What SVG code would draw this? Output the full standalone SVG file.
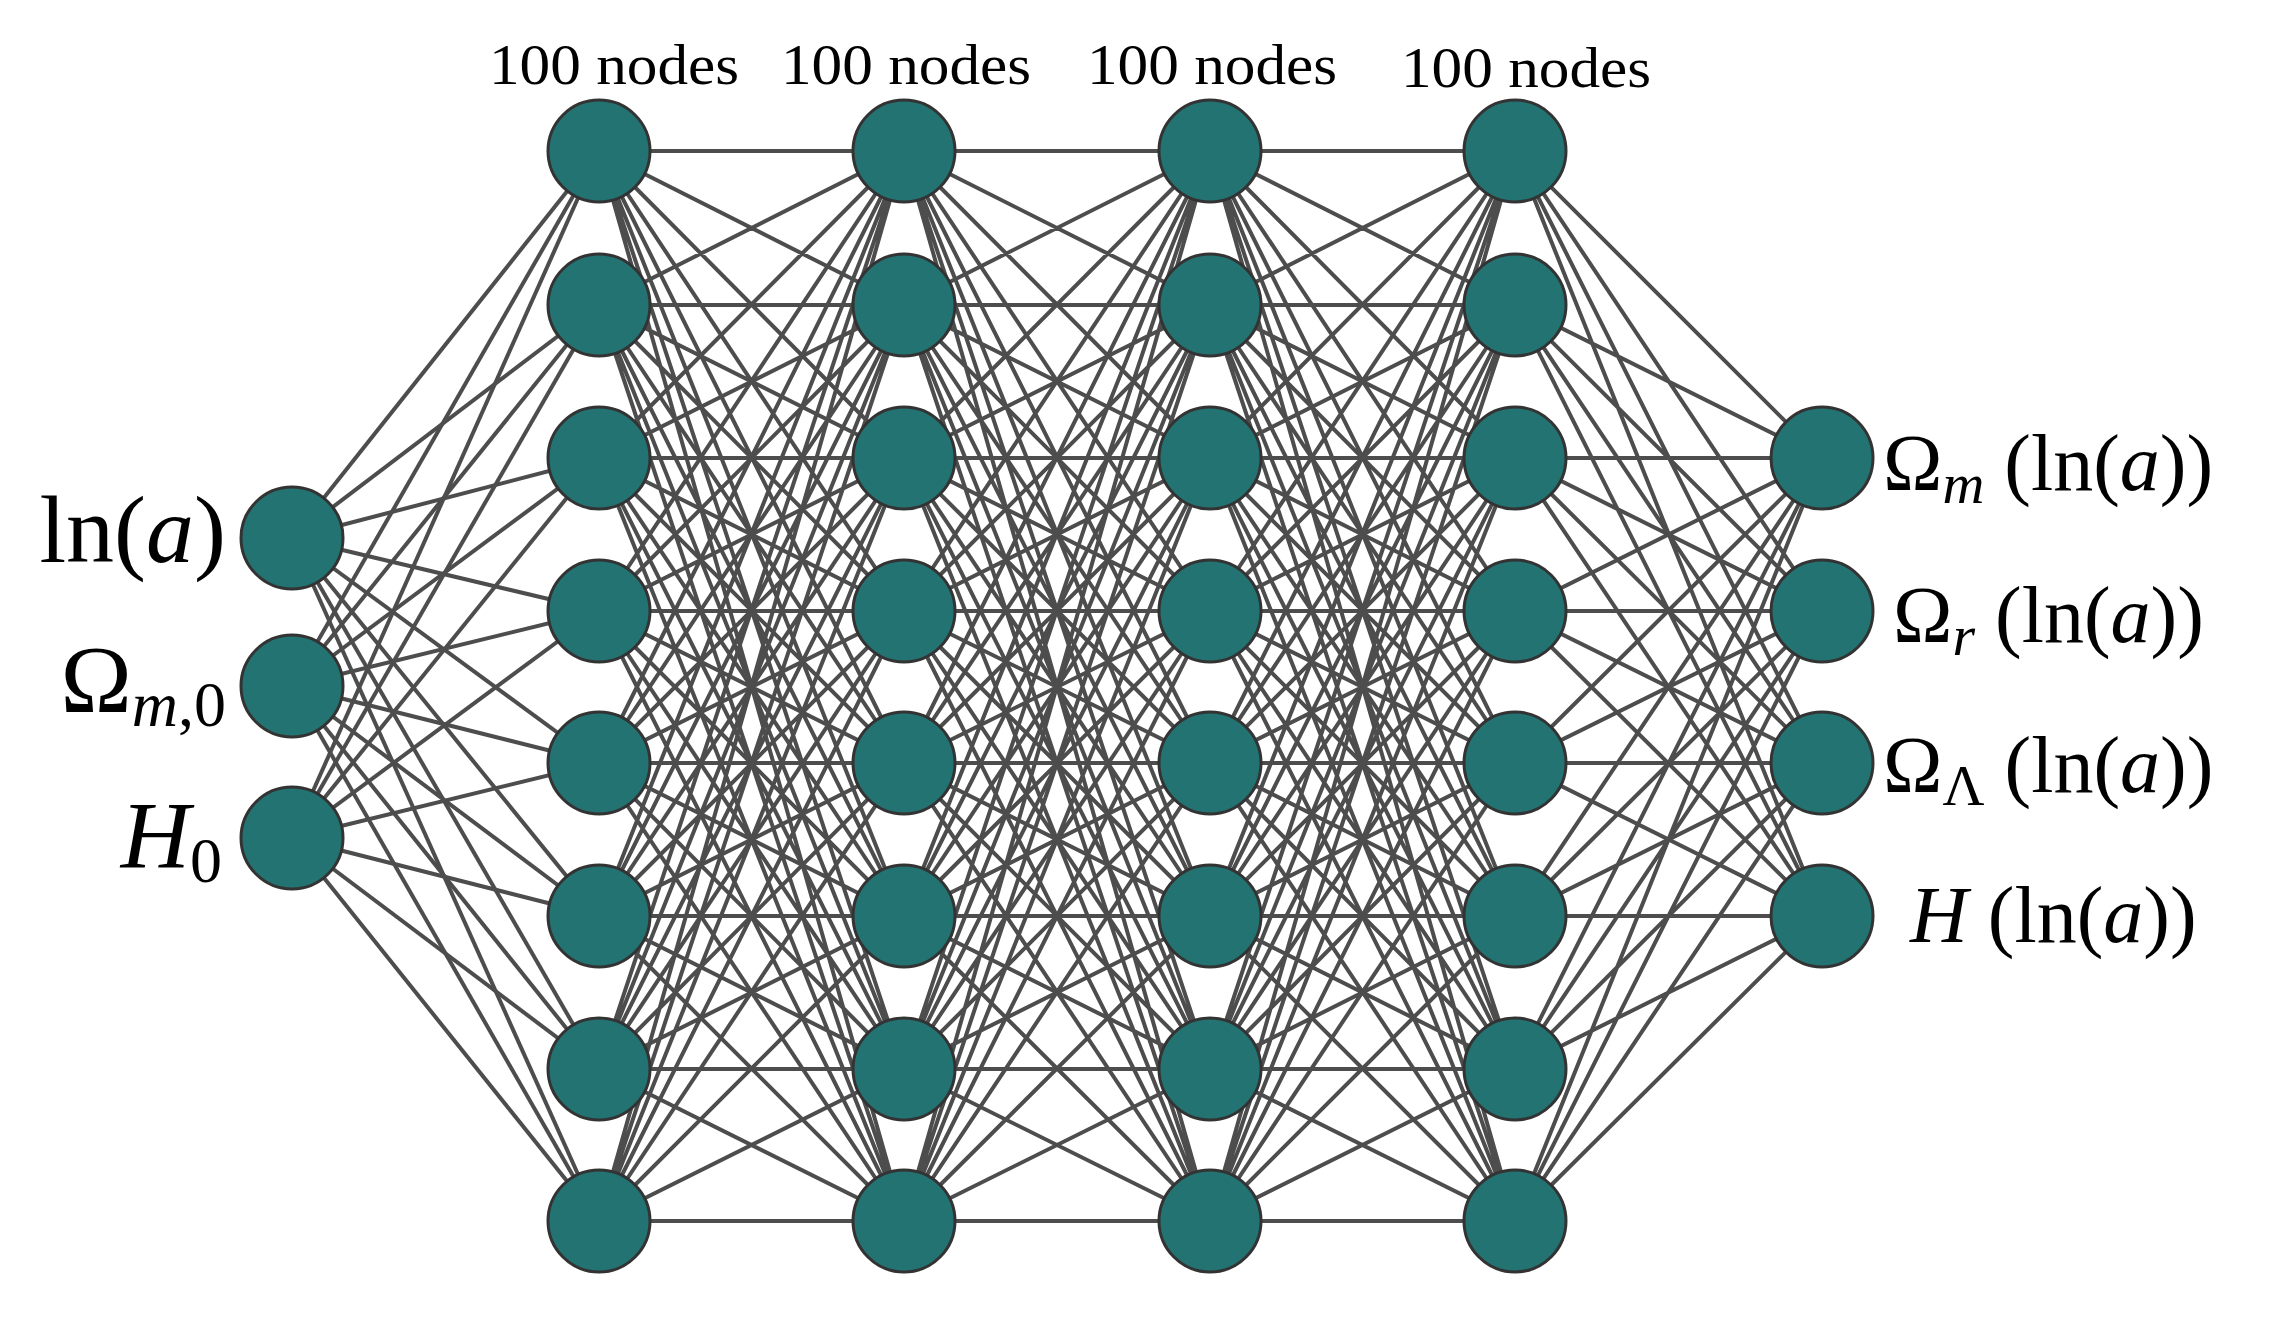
<svg xmlns="http://www.w3.org/2000/svg" width="2280" height="1332" viewBox="0 0 2280 1332">
<style>
.e{stroke:#4d4d4d;stroke-width:4}
.n{fill:#237373;stroke:#333;stroke-width:3}
.t{font-family:"Liberation Serif",serif;fill:#000}
.h{font-size:56px;text-anchor:middle}
.l{font-size:96px;text-anchor:end}
.r{font-size:80px}
</style>
<rect width="2280" height="1332" fill="#fff"/>
<g id="connectors">
<g id="c0">
<line class="e" x1="292" y1="538" x2="599" y2="151"/><line class="e" x1="292" y1="538" x2="599" y2="305"/><line class="e" x1="292" y1="538" x2="599" y2="458"/><line class="e" x1="292" y1="538" x2="599" y2="611"/><line class="e" x1="292" y1="538" x2="599" y2="763"/><line class="e" x1="292" y1="538" x2="599" y2="916"/><line class="e" x1="292" y1="538" x2="599" y2="1069"/><line class="e" x1="292" y1="538" x2="599" y2="1221"/>
<line class="e" x1="292" y1="686" x2="599" y2="151"/><line class="e" x1="292" y1="686" x2="599" y2="305"/><line class="e" x1="292" y1="686" x2="599" y2="458"/><line class="e" x1="292" y1="686" x2="599" y2="611"/><line class="e" x1="292" y1="686" x2="599" y2="763"/><line class="e" x1="292" y1="686" x2="599" y2="916"/><line class="e" x1="292" y1="686" x2="599" y2="1069"/><line class="e" x1="292" y1="686" x2="599" y2="1221"/>
<line class="e" x1="292" y1="838" x2="599" y2="151"/><line class="e" x1="292" y1="838" x2="599" y2="305"/><line class="e" x1="292" y1="838" x2="599" y2="458"/><line class="e" x1="292" y1="838" x2="599" y2="611"/><line class="e" x1="292" y1="838" x2="599" y2="763"/><line class="e" x1="292" y1="838" x2="599" y2="916"/><line class="e" x1="292" y1="838" x2="599" y2="1069"/><line class="e" x1="292" y1="838" x2="599" y2="1221"/>
</g>
<g id="c1">
<path class="e" d="M599 151L904 151M599 151L904 305M599 151L904 458M599 151L904 611M599 151L904 763M599 151L904 916M599 151L904 1069M599 151L904 1221
M599 305L904 151M599 305L904 305M599 305L904 458M599 305L904 611M599 305L904 763M599 305L904 916M599 305L904 1069M599 305L904 1221
M599 458L904 151M599 458L904 305M599 458L904 458M599 458L904 611M599 458L904 763M599 458L904 916M599 458L904 1069M599 458L904 1221
M599 611L904 151M599 611L904 305M599 611L904 458M599 611L904 611M599 611L904 763M599 611L904 916M599 611L904 1069M599 611L904 1221
M599 763L904 151M599 763L904 305M599 763L904 458M599 763L904 611M599 763L904 763M599 763L904 916M599 763L904 1069M599 763L904 1221
M599 916L904 151M599 916L904 305M599 916L904 458M599 916L904 611M599 916L904 763M599 916L904 916M599 916L904 1069M599 916L904 1221
M599 1069L904 151M599 1069L904 305M599 1069L904 458M599 1069L904 611M599 1069L904 763M599 1069L904 916M599 1069L904 1069M599 1069L904 1221
M599 1221L904 151M599 1221L904 305M599 1221L904 458M599 1221L904 611M599 1221L904 763M599 1221L904 916M599 1221L904 1069M599 1221L904 1221"/>
</g>
<g id="c2">
<path class="e" d="M904 151L1210 151M904 151L1210 305M904 151L1210 458M904 151L1210 611M904 151L1210 763M904 151L1210 916M904 151L1210 1069M904 151L1210 1221
M904 305L1210 151M904 305L1210 305M904 305L1210 458M904 305L1210 611M904 305L1210 763M904 305L1210 916M904 305L1210 1069M904 305L1210 1221
M904 458L1210 151M904 458L1210 305M904 458L1210 458M904 458L1210 611M904 458L1210 763M904 458L1210 916M904 458L1210 1069M904 458L1210 1221
M904 611L1210 151M904 611L1210 305M904 611L1210 458M904 611L1210 611M904 611L1210 763M904 611L1210 916M904 611L1210 1069M904 611L1210 1221
M904 763L1210 151M904 763L1210 305M904 763L1210 458M904 763L1210 611M904 763L1210 763M904 763L1210 916M904 763L1210 1069M904 763L1210 1221
M904 916L1210 151M904 916L1210 305M904 916L1210 458M904 916L1210 611M904 916L1210 763M904 916L1210 916M904 916L1210 1069M904 916L1210 1221
M904 1069L1210 151M904 1069L1210 305M904 1069L1210 458M904 1069L1210 611M904 1069L1210 763M904 1069L1210 916M904 1069L1210 1069M904 1069L1210 1221
M904 1221L1210 151M904 1221L1210 305M904 1221L1210 458M904 1221L1210 611M904 1221L1210 763M904 1221L1210 916M904 1221L1210 1069M904 1221L1210 1221"/>
</g>
<g id="c3">
<path class="e" d="M1210 151L1515 151M1210 151L1515 305M1210 151L1515 458M1210 151L1515 611M1210 151L1515 763M1210 151L1515 916M1210 151L1515 1069M1210 151L1515 1221
M1210 305L1515 151M1210 305L1515 305M1210 305L1515 458M1210 305L1515 611M1210 305L1515 763M1210 305L1515 916M1210 305L1515 1069M1210 305L1515 1221
M1210 458L1515 151M1210 458L1515 305M1210 458L1515 458M1210 458L1515 611M1210 458L1515 763M1210 458L1515 916M1210 458L1515 1069M1210 458L1515 1221
M1210 611L1515 151M1210 611L1515 305M1210 611L1515 458M1210 611L1515 611M1210 611L1515 763M1210 611L1515 916M1210 611L1515 1069M1210 611L1515 1221
M1210 763L1515 151M1210 763L1515 305M1210 763L1515 458M1210 763L1515 611M1210 763L1515 763M1210 763L1515 916M1210 763L1515 1069M1210 763L1515 1221
M1210 916L1515 151M1210 916L1515 305M1210 916L1515 458M1210 916L1515 611M1210 916L1515 763M1210 916L1515 916M1210 916L1515 1069M1210 916L1515 1221
M1210 1069L1515 151M1210 1069L1515 305M1210 1069L1515 458M1210 1069L1515 611M1210 1069L1515 763M1210 1069L1515 916M1210 1069L1515 1069M1210 1069L1515 1221
M1210 1221L1515 151M1210 1221L1515 305M1210 1221L1515 458M1210 1221L1515 611M1210 1221L1515 763M1210 1221L1515 916M1210 1221L1515 1069M1210 1221L1515 1221"/>
</g>
<g id="c4">
<path class="e" d="M1515 151L1822 458M1515 151L1822 611M1515 151L1822 763M1515 151L1822 916
M1515 305L1822 458M1515 305L1822 611M1515 305L1822 763M1515 305L1822 916
M1515 458L1822 458M1515 458L1822 611M1515 458L1822 763M1515 458L1822 916
M1515 611L1822 458M1515 611L1822 611M1515 611L1822 763M1515 611L1822 916
M1515 763L1822 458M1515 763L1822 611M1515 763L1822 763M1515 763L1822 916
M1515 916L1822 458M1515 916L1822 611M1515 916L1822 763M1515 916L1822 916
M1515 1069L1822 458M1515 1069L1822 611M1515 1069L1822 763M1515 1069L1822 916
M1515 1221L1822 458M1515 1221L1822 611M1515 1221L1822 763M1515 1221L1822 916"/>
</g>
</g>
<g id="input">
<g id="in0"><circle class="n" cx="292" cy="538" r="51"/></g>
<g id="in1"><circle class="n" cx="292" cy="686" r="51"/></g>
<g id="in2"><circle class="n" cx="292" cy="838" r="51"/></g>
</g>
<g id="hidden1">
<circle class="n" id="h1_0" cx="599" cy="151" r="51"/><circle class="n" id="h1_1" cx="599" cy="305" r="51"/><circle class="n" id="h1_2" cx="599" cy="458" r="51"/><circle class="n" id="h1_3" cx="599" cy="611" r="51"/><circle class="n" id="h1_4" cx="599" cy="763" r="51"/><circle class="n" id="h1_5" cx="599" cy="916" r="51"/><circle class="n" id="h1_6" cx="599" cy="1069" r="51"/><circle class="n" id="h1_7" cx="599" cy="1221" r="51"/>
</g>
<g id="hidden2">
<circle class="n" id="h2_0" cx="904" cy="151" r="51"/><circle class="n" id="h2_1" cx="904" cy="305" r="51"/><circle class="n" id="h2_2" cx="904" cy="458" r="51"/><circle class="n" id="h2_3" cx="904" cy="611" r="51"/><circle class="n" id="h2_4" cx="904" cy="763" r="51"/><circle class="n" id="h2_5" cx="904" cy="916" r="51"/><circle class="n" id="h2_6" cx="904" cy="1069" r="51"/><circle class="n" id="h2_7" cx="904" cy="1221" r="51"/>
</g>
<g id="hidden3">
<circle class="n" id="h3_0" cx="1210" cy="151" r="51"/><circle class="n" id="h3_1" cx="1210" cy="305" r="51"/><circle class="n" id="h3_2" cx="1210" cy="458" r="51"/><circle class="n" id="h3_3" cx="1210" cy="611" r="51"/><circle class="n" id="h3_4" cx="1210" cy="763" r="51"/><circle class="n" id="h3_5" cx="1210" cy="916" r="51"/><circle class="n" id="h3_6" cx="1210" cy="1069" r="51"/><circle class="n" id="h3_7" cx="1210" cy="1221" r="51"/>
</g>
<g id="hidden4">
<circle class="n" id="h4_0" cx="1515" cy="151" r="51"/><circle class="n" id="h4_1" cx="1515" cy="305" r="51"/><circle class="n" id="h4_2" cx="1515" cy="458" r="51"/><circle class="n" id="h4_3" cx="1515" cy="611" r="51"/><circle class="n" id="h4_4" cx="1515" cy="763" r="51"/><circle class="n" id="h4_5" cx="1515" cy="916" r="51"/><circle class="n" id="h4_6" cx="1515" cy="1069" r="51"/><circle class="n" id="h4_7" cx="1515" cy="1221" r="51"/>
</g>
<g id="output">
<g id="out0"><circle class="n" cx="1822" cy="458" r="51"/></g>
<g id="out1"><circle class="n" cx="1822" cy="611" r="51"/></g>
<g id="out2"><circle class="n" cx="1822" cy="763" r="51"/></g>
<g id="out3"><circle class="n" cx="1822" cy="916" r="51"/></g>
</g>
<g id="labels">
<text class="t h" x="614" y="84" textLength="250" lengthAdjust="spacingAndGlyphs">100 nodes</text>
<text class="t h" x="906" y="84" textLength="250" lengthAdjust="spacingAndGlyphs">100 nodes</text>
<text class="t h" x="1212" y="84" textLength="250" lengthAdjust="spacingAndGlyphs">100 nodes</text>
<text class="t h" x="1526" y="87" textLength="250" lengthAdjust="spacingAndGlyphs">100 nodes</text>
<text class="t l" x="226" y="562">ln(<tspan font-style="italic">a</tspan>)</text>
<text class="t l" x="226" y="712">Ω<tspan font-style="italic" font-size="64" dy="14">m</tspan><tspan font-size="64">,0</tspan></text>
<text class="t l" x="222" y="868"><tspan font-style="italic">H</tspan><tspan font-size="64" dy="14">0</tspan></text>
<text class="t r" x="1883" y="490">Ω<tspan font-style="italic" font-size="58" dy="13">m</tspan><tspan dy="-13"> (ln(<tspan font-style="italic">a</tspan>))</tspan></text>
<text class="t r" x="1893" y="642">Ω<tspan font-style="italic" font-size="58" dy="13">r</tspan><tspan dy="-13"> (ln(<tspan font-style="italic">a</tspan>))</tspan></text>
<text class="t r" x="1883" y="792">Ω<tspan font-size="58" dy="13">Λ</tspan><tspan dy="-13"> (ln(<tspan font-style="italic">a</tspan>))</tspan></text>
<text class="t r" x="1910" y="942"><tspan font-style="italic">H</tspan> (ln(<tspan font-style="italic">a</tspan>))</text>
</g>
</svg>
